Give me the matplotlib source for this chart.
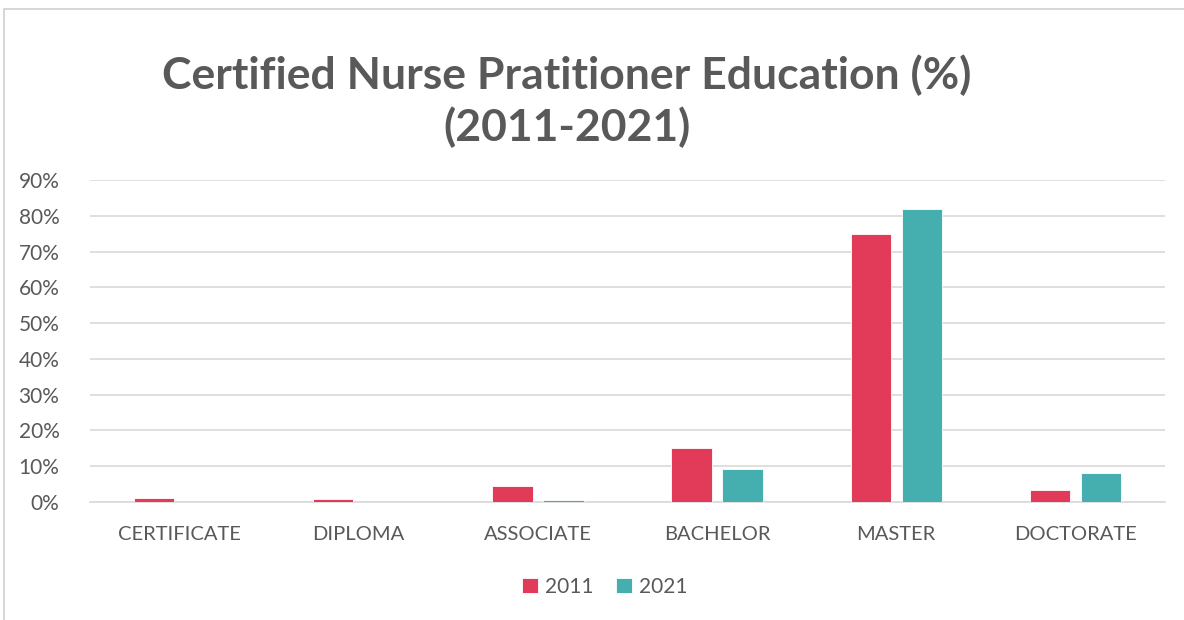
import matplotlib
matplotlib.use("Agg")
import matplotlib.pyplot as plt
from matplotlib.patches import Rectangle
import numpy as np

categories = ["CERTIFICATE", "DIPLOMA", "ASSOCIATE", "BACHELOR", "MASTER", "DOCTORATE"]
series_names = ["2011", "2021"]
values_2011 = [1.0, 0.8, 4.6, 15.0, 75.0, 3.4]
values_2021 = [0.0, 0.0, 0.6, 9.1, 81.9, 8.2]
yticks = [0, 10, 20, 30, 40, 50, 60, 70, 80, 90]
ytick_labels = [f"{v}%" for v in yticks]
title = "Certified Nurse Pratitioner Education (%)\n(2011-2021)"

colors = ["#E23B5A", "#45AFAF"]
text_color = "#595959"
plt.rcParams['font.family'] = ['Lato', 'DejaVu Sans']

fig = plt.figure(figsize=(11.84, 6.2), dpi=100)
fig.patches.append(Rectangle((4/1184, -0.1), 1.2, 1 - 9/620 + 0.1, transform=fig.transFigure,
                             fill=False, edgecolor="#d0d0d0", linewidth=1.2))
ax = fig.add_axes([90/1184, 1 - 502/620, (1165 - 90)/1184, (502 - 180)/620])

x = np.arange(len(categories))
w = 0.225
off = 0.142
ax.bar(x - off, values_2011, w, color=colors[0], label=series_names[0], edgecolor="white", linewidth=0.6, zorder=3)
ax.bar(x + off, values_2021, w, color=colors[1], label=series_names[1], edgecolor="white", linewidth=0.6, zorder=3)

ax.set_xlim(-0.5, len(categories) - 0.5)
ax.set_ylim(0, 90)
ax.set_yticks(yticks)
ax.set_yticklabels(ytick_labels, fontsize=15, color=text_color)
ax.set_xticks(x)
ax.set_xticklabels(categories, fontsize=14.5, color=text_color)
ax.tick_params(axis='both', length=0)
ax.tick_params(axis='y', pad=22)
ax.tick_params(axis='x', pad=17)
ax.grid(axis='y', color="#d9d9d9", linewidth=1.2, zorder=0)
for s in ["top", "right", "left"]:
    ax.spines[s].set_visible(False)
ax.spines["bottom"].set_color("#d9d9d9")
ax.spines["bottom"].set_linewidth(1.2)

fig.text(567/1184, 1 - 101/620, title, ha="center", va="center", fontsize=32,
         fontweight="bold", color=text_color, linespacing=1.3)

fig.legend(loc="center", bbox_to_anchor=(605/1184, 1 - 587/620), ncol=2, frameon=False,
           fontsize=15, labelcolor=text_color, handlelength=0.75, handleheight=0.75,
           handletextpad=0.35, columnspacing=1.1)

fig.savefig("out.png", dpi=100, facecolor="white")
